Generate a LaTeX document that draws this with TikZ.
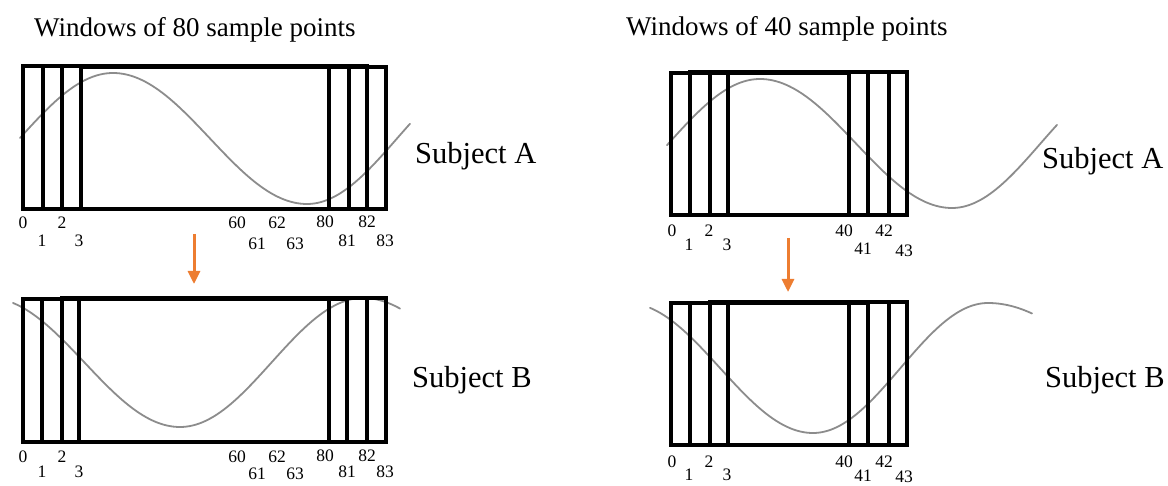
\documentclass[tikz,border=0pt]{standalone}
\usepackage{fontspec}
\setmainfont{Liberation Serif}
\usetikzlibrary{arrows.meta}
\definecolor{curvegray}{HTML}{8C8C8C}
\definecolor{arroworange}{HTML}{ED7D31}
\tikzset{
  win/.style={draw=black, line width=3.6pt},
  wave/.style={draw=curvegray, line width=1.8pt, line cap=round},
  shiftarrow/.style={draw=arroworange, line width=3pt, -{Triangle[length=13pt,width=12pt]}},
  titletext/.style={inner sep=0pt, anchor=base west, font=\fontsize{27}{30}\selectfont},
  subjtext/.style={inner sep=0pt, anchor=base west, font=\fontsize{30.5}{33}\selectfont},
  idx/.style={inner sep=0pt, font=\fontsize{17.5}{19}\selectfont},
}
\begin{document}
\begin{tikzpicture}[x=1pt, y=-1pt]
\useasboundingbox (0,0) rectangle (1168,486);

% titles
\node[titletext] (t80) at (34,37) {Windows of 80 sample points};
\node[titletext] (t40) at (626,36) {Windows of 40 sample points};

% ---------------- left top (Subject A, 80) ----------------
\draw[wave] plot[domain=20:113, samples=40, variable=\t] ({\t},{138.5-65.5*cos((\t-113)/187*180)})
  -- plot[domain=113:307, samples=60, variable=\t] ({\t},{138.5-65.5*cos((\t-113)/194*180)})
  -- plot[domain=307:410, samples=40, variable=\t] ({\t},{138.5+65.5*cos((\t-307)/180*180)});
\draw[win] (23,66) rectangle (329,209);
\draw[win] (43,66) rectangle (349,209);
\draw[win] (62,66) rectangle (367,209);
\draw[win] (81,67) rectangle (386,209);
\node[subjtext] (sa1) at (415,164) {Subject A};
\node[idx] (la0) at (23,223) {0};
\node[idx] (la1) at (42,241) {1};
\node[idx] (la2) at (62,223) {2};
\node[idx] (la3) at (79,241) {3};
\node[idx] (la60) at (237,223) {60};
\node[idx] (la61) at (257,244) {61};
\node[idx] (la62) at (277,223) {62};
\node[idx] (la63) at (295,244) {63};
\node[idx] (la80) at (325,222) {80};
\node[idx] (la81) at (347,241) {81};
\node[idx] (la82) at (367,222) {82};
\node[idx] (la83) at (385,241) {83};

% arrow left
\coordinate (al1) at (194,234);
\coordinate (al2) at (194,284);
\draw[shiftarrow] (al1) -- (al2);

% ---------------- left bottom (Subject B, 80) ----------------
\draw[wave] plot[domain=13:180, samples=50, variable=\t] ({\t},{362.5+64.5*cos((\t-180)/191*180)})
  -- plot[domain=180:363, samples=60, variable=\t] ({\t},{362.5+64.5*cos((\t-180)/183*180)})
  -- plot[domain=363:400, samples=20, variable=\t] ({\t},{362.5-64.5*cos((\t-363)/200*180)});
\draw[win] (23,299) rectangle (329,442);
\draw[win] (42,299) rectangle (347,442);
\draw[win] (62,298) rectangle (367,442);
\draw[win] (79,298) rectangle (386,442);
\node[subjtext] (sb1) at (412,388) {Subject B};
\node[idx] (lb0) at (23,457) {0};
\node[idx] (lb1) at (42,472) {1};
\node[idx] (lb2) at (62,457) {2};
\node[idx] (lb3) at (79,472) {3};
\node[idx] (lb60) at (237,457) {60};
\node[idx] (lb61) at (257,474) {61};
\node[idx] (lb62) at (277,457) {62};
\node[idx] (lb63) at (295,474) {63};
\node[idx] (lb80) at (325,456) {80};
\node[idx] (lb81) at (347,472) {81};
\node[idx] (lb82) at (367,456) {82};
\node[idx] (lb83) at (385,472) {83};

% ---------------- right top (Subject A, 40) ----------------
\draw[wave] plot[domain=667:760, samples=40, variable=\t] ({\t},{143.5-64.5*cos((\t-760)/183*180)})
  -- plot[domain=760:952, samples=60, variable=\t] ({\t},{143.5-64.5*cos((\t-760)/192*180)})
  -- plot[domain=952:1057, samples=40, variable=\t] ({\t},{143.5+64.5*cos((\t-952)/177*180)});
\draw[win] (671,73) rectangle (849,215);
\draw[win] (690,72) rectangle (868,215);
\draw[win] (710,72) rectangle (889,215);
\draw[win] (728,72) rectangle (907,215);
\node[subjtext] (sa2) at (1042,169) {Subject A};
\node[idx] (ra0) at (672,231) {0};
\node[idx] (ra1) at (689,245) {1};
\node[idx] (ra2) at (709,231) {2};
\node[idx] (ra3) at (727,245) {3};
\node[idx] (ra40) at (844,231) {40};
\node[idx] (ra41) at (863,249) {41};
\node[idx] (ra42) at (884,231) {42};
\node[idx] (ra43) at (904,251) {43};

% arrow right
\coordinate (ar1) at (788,238);
\coordinate (ar2) at (788,292);
\draw[shiftarrow] (ar1) -- (ar2);

% ---------------- right bottom (Subject B, 40) ----------------
\draw[wave] plot[domain=650:813, samples=50, variable=\t] ({\t},{368+65*cos((\t-813)/186*180)})
  -- plot[domain=813:988, samples=60, variable=\t] ({\t},{368+65*cos((\t-813)/175*180)})
  -- plot[domain=988:1032, samples=20, variable=\t] ({\t},{368-65*cos((\t-988)/240*180)});
\draw[win] (671,303) rectangle (849,445);
\draw[win] (690,303) rectangle (868,445);
\draw[win] (710,302) rectangle (889,445);
\draw[win] (728,302) rectangle (907,445);
\node[subjtext] (sb2) at (1045,388) {Subject B};
\node[idx] (rb0) at (672,462) {0};
\node[idx] (rb1) at (689,475) {1};
\node[idx] (rb2) at (709,462) {2};
\node[idx] (rb3) at (727,475) {3};
\node[idx] (rb40) at (844,462) {40};
\node[idx] (rb41) at (863,476) {41};
\node[idx] (rb42) at (884,462) {42};
\node[idx] (rb43) at (904,477) {43};
\end{tikzpicture}
\end{document}
